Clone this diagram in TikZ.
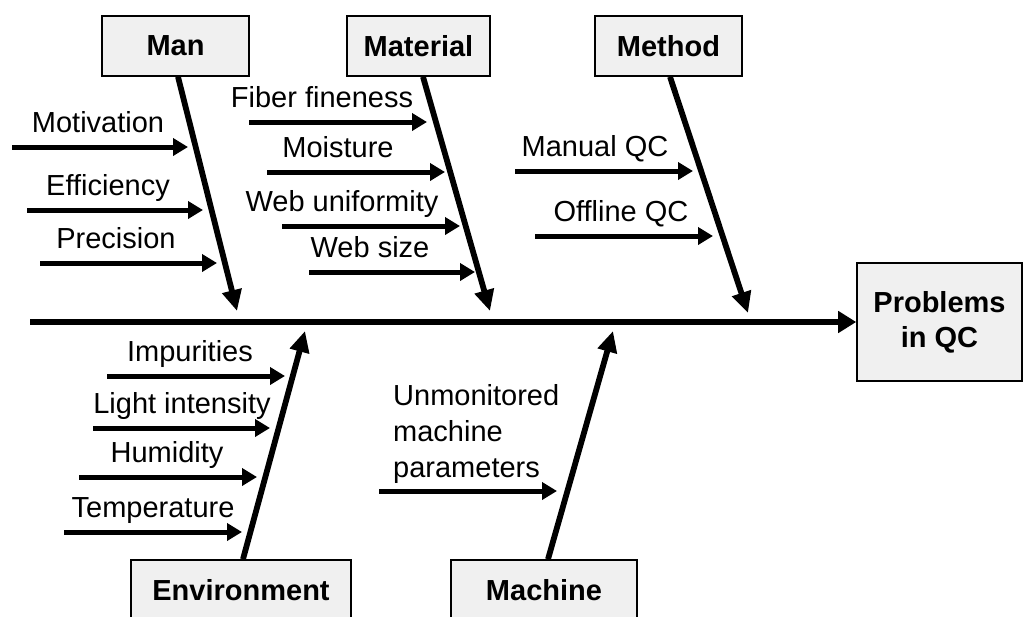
\documentclass[tikz,border=0pt]{standalone}
\usepackage{fontspec}
\setmainfont{Liberation Sans}
\usetikzlibrary{arrows.meta}
\definecolor{boxgray}{RGB}{240,240,240}
\begin{document}
\begin{tikzpicture}[x=1pt,y=-1pt,
  box/.style={draw=black, line width=1.6pt, fill=boxgray, inner sep=0pt,
    font=\fontsize{29}{35}\selectfont\bfseries},
  lbl/.style={inner sep=0pt, anchor=base, font=\fontsize{29}{35}\selectfont},
  bone/.style={line width=5.8pt, -{Triangle[length=21pt,width=19pt]}},
  rib/.style={line width=5pt, -{Triangle[length=15pt,width=17pt]}},
  spine/.style={line width=6.2pt, -{Triangle[length=18pt,width=21pt]}},
]
\useasboundingbox (0,0) rectangle (1023,616);

% category boxes
\node[box, minimum width=147pt, minimum height=60pt] (man) at (175.5,46) {Man};
\node[box, minimum width=143pt, minimum height=60pt] (mat) at (418.5,46) {Material};
\node[box, minimum width=147pt, minimum height=60pt] (met) at (668.5,46) {Method};
\node[box, minimum width=220pt, minimum height=60pt] (env) at (241,590) {Environment};
\node[box, minimum width=186pt, minimum height=60pt] (mac) at (544,590) {Machine};
\node[box, minimum width=165pt, minimum height=118pt, align=center] (prob) at (939.5,322) {Problems\\in QC};

% spine
\coordinate (tail) at (30,322);
\draw[spine] (tail) -- (prob.west);

% bones
\coordinate (manT) at (237,311);
\coordinate (matT) at (490,311);
\coordinate (metT) at (748,313);
\coordinate (envT) at (305,331);
\coordinate (macT) at (613,331);
\draw[bone] ([xshift=2.5pt]man.south) -- (manT);
\draw[bone] ([xshift=4.5pt]mat.south) -- (matT);
\draw[bone] ([xshift=1.5pt]met.south) -- (metT);
\draw[bone] ([xshift=2pt]env.north) -- (envT);
\draw[bone] ([xshift=4pt]mac.north) -- (macT);

% ribs
\foreach \n/\xa/\xb/\yy/\xt/\t in {
  mot/12/188/147/98/Motivation,
  eff/27/203/210/108/Efficiency,
  pre/40/217/263/116/Precision,
  fib/249/427/122/322/Fiber fineness,
  moi/267/445/172/338/Moisture,
  web/282/460/226/342/Web uniformity,
  wsz/309/475/272/370/Web size,
  mqc/515/693/171/595/Manual QC,
  oqc/535/713/236/621/Offline QC,
  imp/107/285/376/190/Impurities,
  lig/93/270/428/182/Light intensity,
  hum/79/257/477/167/Humidity,
  tem/64/242/532/153/Temperature}{
  \coordinate (\n s) at (\xa,\yy);
  \coordinate (\n e) at (\xb,\yy);
  \node[lbl] (\n l) at (\xt,\yy-15) {\t};
  \draw[rib] (\n s) -- (\n e);
}

% machine rib
\coordinate (pars) at (379,491);
\coordinate (pare) at (557,491);
\node[inner sep=0pt, anchor=north west, align=left,
  font=\fontsize{29}{36}\selectfont] (parl) at (393,384)
  {Unmonitored\\machine\\parameters};
\draw[rib] (pars) -- (pare);
\end{tikzpicture}
\end{document}
